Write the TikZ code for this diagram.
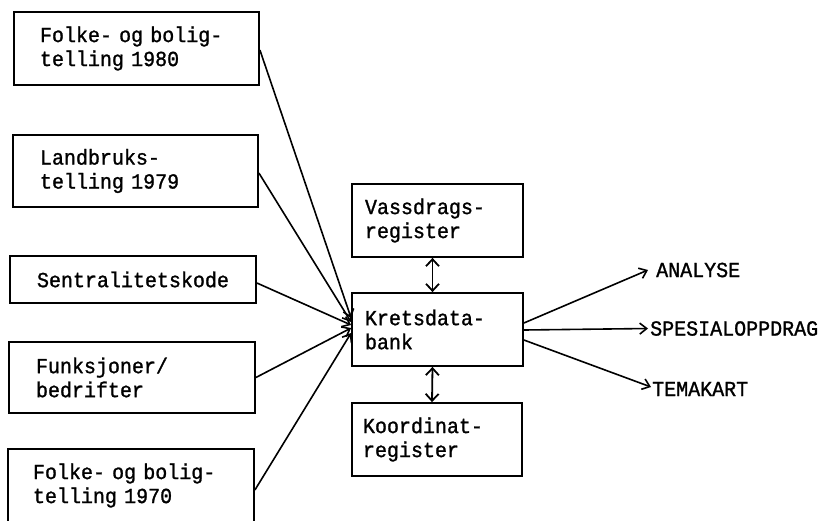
\documentclass[tikz,border=0pt]{standalone}
\usepackage{fontspec}
\setmonofont{Liberation Mono}[FakeStretch=0.93,FakeBold=1.2]
\usetikzlibrary{arrows.meta}
\begin{document}
\begin{tikzpicture}[x=1pt,y=-1pt,
  txtfont/.style={font=\ttfamily\fontsize{21.5}{24}\selectfont},
  box/.style={draw, line width=1.8pt, align=left, inner ysep=0pt, txtfont},
  outlbl/.style={inner ysep=0pt, anchor=west, txtfont},
  conn/.style={line width=1.6pt, -{Straight Barb[length=7pt,width=11pt,line width=1.6pt]}},
  dconn/.style={line width=1.8pt, {Straight Barb[length=7pt,width=13pt,line width=1.8pt]}-{Straight Barb[length=7pt,width=13pt,line width=1.8pt]}}
]
\useasboundingbox (0,0) rectangle (826,520);
% input boxes
\node[box, inner xsep=26pt, text width=193pt, minimum height=73pt] (b1) at (136.5,48.5) {\mbox{Folke- og bolig-}\\\mbox{telling 1980}};
\node[box, inner xsep=27pt, text width=191pt, minimum height=72pt] (b2) at (135.5,171) {Landbruks-\\\mbox{telling 1979}};
\node[box, inner xsep=27pt, text width=192pt, minimum height=47pt] (b3) at (133,279.5) {Sentralitetskode};
\node[box, inner xsep=27pt, text width=192pt, minimum height=71pt] (b4) at (132,377.5) {Funksjoner/\\bedrifter};
\node[box, inner xsep=25pt, text width=196pt, minimum height=73pt] (b5) at (131,485.5) {\mbox{Folke- og bolig-}\\\mbox{telling 1970}};
% central boxes
\node[box, inner xsep=13pt, text width=145pt, minimum height=73pt] (v) at (437.5,220.5) {Vassdrags-\\register};
\node[box, inner xsep=13pt, text width=145pt, minimum height=73pt] (k) at (437.5,329.5) {Kretsdata-\\bank};
\node[box, inner xsep=11pt, text width=148pt, minimum height=73pt] (ko) at (437,439.5) {Koordinat-\\register};
% outputs
\node[outlbl, inner xsep=8pt] (an) at (648,270) {ANALYSE};
\node[outlbl, inner xsep=2pt] (sp) at (648,328.5) {SPESIALOPPDRAG};
\node[outlbl, inner xsep=1pt] (te) at (651,389) {TEMAKART};
% inputs to Kretsdatabank
\draw[conn] ([yshift=-1.5pt]b1.east) -- ([yshift=11.5pt]k.west);
\draw[conn] ([yshift=-2pt]b2.east) -- ([yshift=7.5pt]k.west);
\draw[conn] ([yshift=-3.5pt]b3.east) -- ([yshift=4.5pt]k.west);
\draw[conn] (b4.east) -- ([yshift=1.5pt]k.west);
\draw[conn] ([yshift=-4.5pt]b5.east) -- ([yshift=-3.5pt]k.west);
% registers
\draw[dconn] ([xshift=-5pt]v.south) -- ([xshift=-5pt]k.north);
\draw[dconn] ([xshift=-5pt]k.south) -- ([xshift=-5pt]ko.north);
% outputs
\draw[conn] ([yshift=6.5pt]k.east) -- (an.west);
\draw[conn] ([yshift=-0.5pt]k.east) -- (sp.west);
\draw[conn] ([yshift=-10.5pt]k.east) -- ([yshift=2pt]te.west);
\end{tikzpicture}
\end{document}
